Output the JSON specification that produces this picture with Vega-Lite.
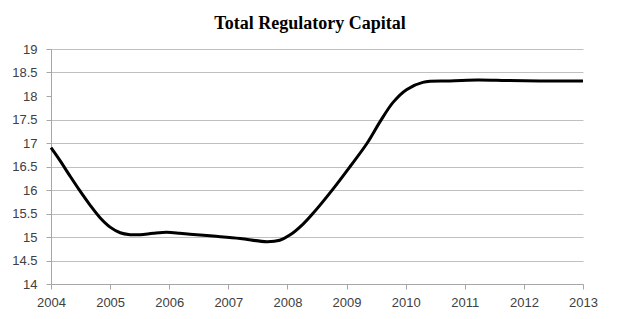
{
  "$schema": "https://vega.github.io/schema/vega-lite/v6.json",
  "width": 532,
  "height": 235,
  "autosize": {"type": "none"},
  "padding": {"left": 51, "top": 49, "right": 40, "bottom": 35},
  "background": "white",
  "title": {
    "text": "Total Regulatory Capital",
    "font": "Liberation Serif",
    "fontSize": 18,
    "fontWeight": "bold",
    "color": "#000000",
    "anchor": "middle",
    "dx": -7,
    "offset": 10
  },
  "data": {
    "values": [
      {"year": 2004.0, "value": 16.9},
      {"year": 2004.15, "value": 16.63},
      {"year": 2004.32, "value": 16.3},
      {"year": 2004.49, "value": 15.98},
      {"year": 2004.66, "value": 15.68},
      {"year": 2004.83, "value": 15.41},
      {"year": 2005.0, "value": 15.21},
      {"year": 2005.17, "value": 15.09},
      {"year": 2005.34, "value": 15.05},
      {"year": 2005.51, "value": 15.05},
      {"year": 2005.73, "value": 15.08},
      {"year": 2005.96, "value": 15.1},
      {"year": 2006.18, "value": 15.08},
      {"year": 2006.35, "value": 15.06},
      {"year": 2006.74, "value": 15.02},
      {"year": 2007.2, "value": 14.97},
      {"year": 2007.65, "value": 14.9},
      {"year": 2007.87, "value": 14.93},
      {"year": 2008.04, "value": 15.04},
      {"year": 2008.26, "value": 15.27},
      {"year": 2008.43, "value": 15.5},
      {"year": 2008.77, "value": 16.02},
      {"year": 2009.06, "value": 16.5},
      {"year": 2009.35, "value": 17.0},
      {"year": 2009.57, "value": 17.46},
      {"year": 2009.79, "value": 17.87},
      {"year": 2010.02, "value": 18.14},
      {"year": 2010.29, "value": 18.29},
      {"year": 2010.75, "value": 18.32},
      {"year": 2011.21, "value": 18.34},
      {"year": 2011.71, "value": 18.33},
      {"year": 2012.27, "value": 18.32},
      {"year": 2013.0, "value": 18.32}
    ]
  },
  "mark": {"type": "line", "color": "#000000", "strokeWidth": 3, "interpolate": "catmull-rom"},
  "encoding": {
    "x": {
      "field": "year",
      "type": "quantitative",
      "scale": {"domain": [2004, 2013], "nice": false, "zero": false},
      "axis": {
        "title": null,
        "values": [2004, 2005, 2006, 2007, 2008, 2009, 2010, 2011, 2012, 2013],
        "format": "d",
        "grid": false,
        "domainColor": "#a6a6a6",
        "tickColor": "#a6a6a6",
        "tickSize": 5,
        "labelPadding": 7,
        "labelFont": "Liberation Sans",
        "labelFontSize": 13,
        "labelColor": "#404040",
        "labelFlush": false
      }
    },
    "y": {
      "field": "value",
      "type": "quantitative",
      "scale": {"domain": [14, 19], "nice": false, "zero": false},
      "axis": {
        "title": null,
        "values": [14, 14.5, 15, 15.5, 16, 16.5, 17, 17.5, 18, 18.5, 19],
        "format": "~g",
        "grid": true,
        "gridColor": {"condition": {"test": "datum.value === 18", "value": "transparent"}, "value": "#c0c0c0"},
        "gridWidth": 1,
        "domainColor": "#a6a6a6",
        "tickColor": "#a6a6a6",
        "tickSize": 5,
        "labelPadding": 9,
        "labelFont": "Liberation Sans",
        "labelFontSize": 13,
        "labelColor": "#404040",
        "labelFlush": false
      }
    }
  },
  "config": {"view": {"stroke": null}}
}
